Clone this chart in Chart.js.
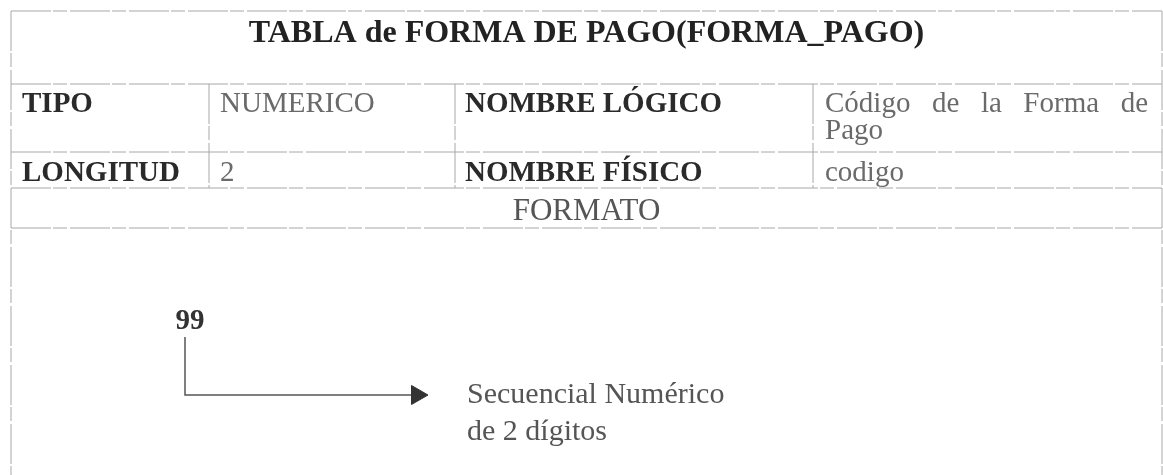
<!DOCTYPE html>
<html>
<head>
<meta charset="utf-8">
<title>TABLA de FORMA DE PAGO</title>
<script src="https://cdn.jsdelivr.net/npm/chart.js@4"></script>
<style>
    body { margin: 0; background: #fff; }
    #wrap { width: 1163px; height: 475px; position: relative; }
</style>
</head>
<body>
<div id="wrap"><canvas id="tablaChart"></canvas></div>
<script>
/* Table contents */
const titleText = "TABLA de FORMA DE PAGO(FORMA_PAGO)";
const fieldLabels = ["TIPO", "LONGITUD"];
const fieldValues = ["NUMERICO", "2"];
const nameLabels = ["NOMBRE LÓGICO", "NOMBRE FÍSICO"];
const nameValues = ["Código de la Forma de Pago", "codigo"];
const formatHeader = "FORMATO";
const formatMask = "99";
const formatNote = ["Secuencial Numérico", "de 2 dígitos"];

/* Layout, in scale units (1 unit = 1 px) */
const W = 1163, H = 475;
const colEdges = [11, 209, 455, 813, 1162];
const rowEdges = [11, 84, 152, 188, 228];
const rowBaselines = [112, 181];
const lineColor = "#a8a8a8";
const serif = "'Liberation Serif', 'Times New Roman', serif";

function seg(x1, y1, x2, y2) {
    return {
        data: [{ x: x1, y: y1 }, { x: x2, y: y2 }],
        showLine: true,
        borderColor: lineColor,
        borderWidth: 1,
        borderDash: [40, 2, 14, 3],
        pointRadius: 0,
        fill: false,
        clip: false
    };
}

const datasets = [];
rowEdges.forEach(y => datasets.push(seg(colEdges[0], y, colEdges[4], y)));
datasets.push(seg(colEdges[0], rowEdges[0], colEdges[0], H));
datasets.push(seg(colEdges[4], rowEdges[0], colEdges[4], H));
[1, 2, 3].forEach(i => datasets.push(seg(colEdges[i], rowEdges[1], colEdges[i], rowEdges[3])));

/* Arrow from the mask to the description */
datasets.push({
    data: [{ x: 185, y: 337 }, { x: 185, y: 395 }, { x: 417, y: 395 }],
    showLine: true,
    borderColor: "#555",
    borderWidth: 1.5,
    pointStyle: "triangle",
    rotation: 90,
    pointRadius: [0, 0, 11],
    pointBackgroundColor: "#333",
    pointBorderColor: "#333",
    pointBorderWidth: 1,
    fill: false
});

function justifyText(ctx, text, x, y, width, lineH) {
    const words = text.split(" ");
    const lines = [];
    let cur = [];
    words.forEach(w => {
        const test = cur.concat([w]).join(" ");
        if (cur.length && ctx.measureText(test).width > width) {
            lines.push(cur);
            cur = [w];
        } else {
            cur.push(w);
        }
    });
    if (cur.length) lines.push(cur);
    lines.forEach((ws, li) => {
        const yy = y + li * lineH;
        if (li === lines.length - 1 || ws.length === 1) {
            ctx.fillText(ws.join(" "), x, yy);
            return;
        }
        const wordsW = ws.reduce((s, w) => s + ctx.measureText(w).width, 0);
        const gap = (width - wordsW) / (ws.length - 1);
        let xx = x;
        ws.forEach(w => {
            ctx.fillText(w, xx, yy);
            xx += ctx.measureText(w).width + gap;
        });
    });
}

const tableText = {
    id: "tableText",
    afterDraw(chart) {
        const ctx = chart.ctx;
        const sx = v => chart.scales.x.getPixelForValue(v);
        const sy = v => chart.scales.y.getPixelForValue(v);
        ctx.save();
        ctx.textBaseline = "alphabetic";

        ctx.fillStyle = "#222";
        ctx.font = "bold 32px " + serif;
        ctx.textAlign = "center";
        ctx.fillText(titleText, sx((colEdges[0] + colEdges[4]) / 2), sy(42));

        ctx.textAlign = "left";
        rowBaselines.forEach((b, i) => {
            ctx.fillStyle = "#2a2a2a";
            ctx.font = "bold 29px " + serif;
            ctx.fillText(fieldLabels[i], sx(colEdges[0] + 11), sy(b));
            ctx.fillText(nameLabels[i], sx(colEdges[2] + 10), sy(b));
            ctx.fillStyle = "#6a6a6a";
            ctx.font = "29px " + serif;
            ctx.fillText(fieldValues[i], sx(colEdges[1] + 11), sy(b));
            justifyText(ctx, nameValues[i], sx(colEdges[3] + 12), sy(b),
                sx(colEdges[4] - 14) - sx(colEdges[3] + 12), 27);
        });

        ctx.fillStyle = "#555";
        ctx.font = "31px " + serif;
        ctx.textAlign = "center";
        ctx.fillText(formatHeader, sx((colEdges[0] + colEdges[4]) / 2), sy(220));

        ctx.fillStyle = "#333";
        ctx.font = "bold 29px " + serif;
        ctx.fillText(formatMask, sx(190), sy(329));

        ctx.fillStyle = "#555";
        ctx.font = "30px " + serif;
        ctx.textAlign = "left";
        formatNote.forEach((t, i) => ctx.fillText(t, sx(467), sy(403 + i * 37)));
        ctx.restore();
    }
};

new Chart(document.getElementById("tablaChart"), {
    type: "scatter",
    data: { datasets: datasets },
    options: {
        responsive: true,
        maintainAspectRatio: false,
        animation: false,
        events: [],
        layout: { padding: 0, autoPadding: false },
        plugins: { legend: { display: false }, tooltip: { enabled: false } },
        scales: {
            x: { type: "linear", min: 0, max: W, display: false },
            y: { type: "linear", min: 0, max: H, reverse: true, display: false }
        }
    },
    plugins: [tableText]
});
</script>
</body>
</html>
